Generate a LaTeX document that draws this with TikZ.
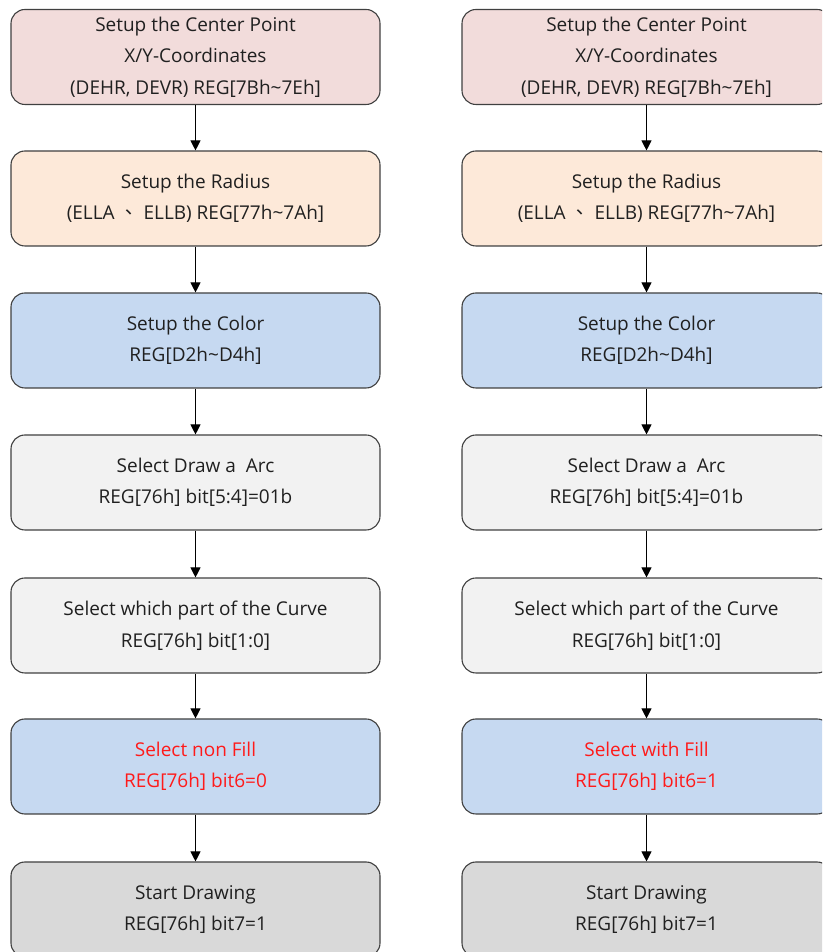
\documentclass[tikz,border=0pt]{standalone}
\usepackage{fontspec}
\setmainfont{Open Sans}
\newfontfamily\cjk{Noto Sans CJK TC}
\usetikzlibrary{arrows.meta}
\definecolor{bpink}{HTML}{F2DCDB}
\definecolor{bpeach}{HTML}{FDE9D9}
\definecolor{bblue}{HTML}{C6D9F1}
\definecolor{blight}{HTML}{F2F2F2}
\definecolor{bgray}{HTML}{D9D9D9}
\definecolor{bdraw}{HTML}{404040}
\definecolor{txt}{HTML}{202020}
\definecolor{tred}{HTML}{FF1A1A}
\tikzset{
  box/.style={draw=bdraw, line width=1.1pt, rounded corners=14pt, minimum width=369pt, minimum height=95pt, inner sep=0pt, align=center, text=txt, font=\fontsize{19}{31.5}\selectfont},
  arr/.style={draw=black, line width=1pt, -{Triangle[width=10pt,length=10pt]}}
}
\begin{document}
\begin{tikzpicture}[x=1pt,y=1pt]
\useasboundingbox (0,0) rectangle (822,952);
\clip (0,0) rectangle (822,952);
\foreach \c/\x in {L/195.5, R/646.5}{
  \node[box, fill=bpink] (\c1) at (\x,895) {Setup the Center Point\\X/Y-Coordinates\\(DEHR, DEVR) REG[7Bh\textasciitilde7Eh]};
  \node[box, fill=bpeach] (\c2) at (\x,753.5) {Setup the Radius\\(ELLA {\cjk 、} ELLB) REG[77h\textasciitilde7Ah]};
  \node[box, fill=bblue] (\c3) at (\x,611.5) {Setup the Color\\REG[D2h\textasciitilde D4h]};
  \node[box, fill=blight] (\c4) at (\x,469.5) {Select Draw a\ \ Arc\\REG[76h] bit[5:4]=01b};
  \node[box, fill=blight] (\c5) at (\x,326.5) {Select which part of the Curve\\REG[76h] bit[1:0]};
  \node[box, fill=bgray] (\c7) at (\x,42.5) {Start Drawing\\REG[76h] bit7=1};
}
\node[box, fill=bblue, text=tred] (L6) at (195.5,185.5) {Select non Fill\\REG[76h] bit6=0};
\node[box, fill=bblue, text=tred] (R6) at (646.5,185.5) {Select with Fill\\REG[76h] bit6=1};
\foreach \c in {L,R}{
  \draw[arr] (\c1) -- (\c2);
  \draw[arr] (\c2) -- (\c3);
  \draw[arr] (\c3) -- (\c4);
  \draw[arr] (\c4) -- (\c5);
  \draw[arr] (\c5) -- (\c6);
  \draw[arr] (\c6) -- (\c7);
}
\end{tikzpicture}
\end{document}
